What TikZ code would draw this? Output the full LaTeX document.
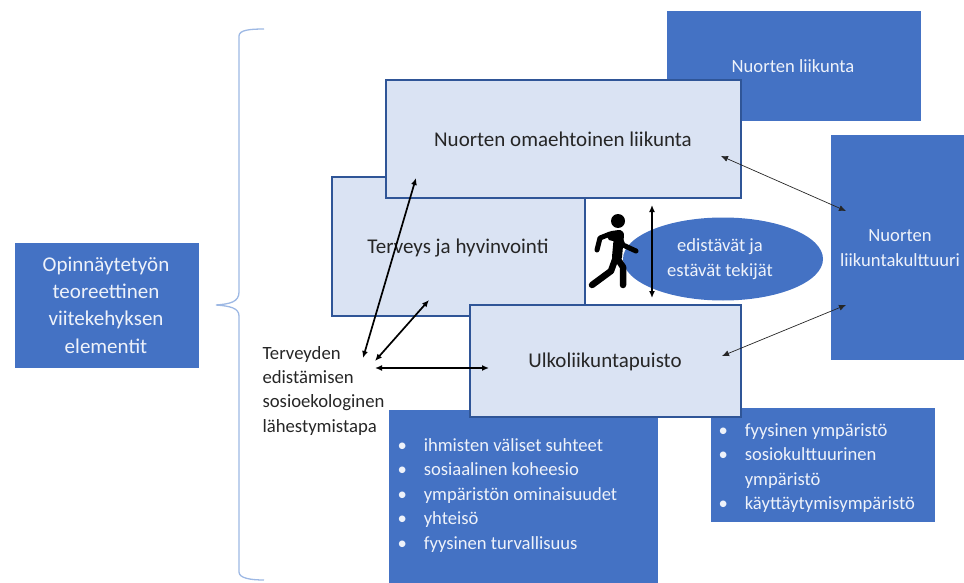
\documentclass[tikz,border=0pt]{standalone}
\usepackage{fontspec}
\setmainfont{Carlito}
\definecolor{bluefill}{HTML}{4472C4}
\definecolor{palefill}{HTML}{DAE3F3}
\definecolor{edgeblue}{HTML}{2F5597}
\definecolor{bracecol}{HTML}{9DB8E4}
\definecolor{softwhite}{HTML}{EEF2FA}
\definecolor{softblack}{HTML}{262626}
\usetikzlibrary{arrows.meta,shapes.geometric}
\tikzset{
  darkbox/.style={draw=bluefill,fill=bluefill,line width=0.8pt},
  palebox/.style={draw=edgeblue,fill=palefill,line width=1.4pt},
  whitetext/.style={text=softwhite,font=\fontsize{18.6}{25}\selectfont,align=center},
  listtext/.style={text=softwhite,font=\fontsize{18.6}{24.4}\selectfont,align=left,anchor=north west},
  blacktext/.style={text=softblack,font=\fontsize{21}{25}\selectfont,align=center},
  thinarrow/.style={{Latex[length=7pt,width=6pt]}-{Latex[length=7pt,width=6pt]},draw=softblack,line width=0.7pt},
  boldarrow/.style={{Latex[length=7pt,width=6pt]}-{Latex[length=7pt,width=6pt]},black,line width=1.7pt},
  limb/.style={black,line cap=round,line join=round},
}
\newcommand{\bul}{\textbullet\hspace{17pt}}
\begin{document}
\begin{tikzpicture}[x=1pt,y=-1pt]
\useasboundingbox (0,0) rectangle (964,583);
% back boxes
\draw[darkbox] (667,11) rectangle (920,120);
\node[whitetext] (nl) at (793,66) {Nuorten liikunta};
\draw[darkbox] (831,135) rectangle (964,359);
\node[whitetext] (nk) at (900,248) {Nuorten\\liikuntakulttuuri};
\draw[darkbox] (15,243) rectangle (198,367);
\node[whitetext,font=\fontsize{21}{27.4}\selectfont] (op) at (106,305) {Opinnäytetyön\\teoreettinen\\viitekehyksen\\elementit};
\draw[darkbox] (389,410) rectangle (657,583);
\draw[darkbox] (711,408) rectangle (934,521);
% pale boxes
\draw[palebox] (332,177) rectangle (585,316);
\node[blacktext] (ter) at (458,248) {Terveys ja hyvinvointi};
\draw[palebox] (386,80) rectangle (741,198);
\node[blacktext] (nol) at (563,139) {Nuorten omaehtoinen liikunta};
\draw[palebox] (470,305) rectangle (741,417);
\node[blacktext] (ulk) at (605,362) {Ulkoliikuntapuisto};
% lists
\node[listtext] (l1) at (394,435) {\bul ihmisten väliset suhteet\\\bul sosiaalinen koheesio\\\bul ympäristön ominaisuudet\\\bul yhteisö\\\bul fyysinen turvallisuus};
\node[listtext] (l2) at (715,420) {\bul fyysinen ympäristö\\\bul sosiokulttuurinen\\\hphantom{\bul}ympäristö\\\bul käyttäytymisympäristö};
% ellipse
\node[draw=none,fill=bluefill,ellipse,minimum width=200pt,minimum height=83pt,inner sep=0pt] (el) at (723,259) {};
\node[whitetext] (elt) at (720,259) {edistävät ja\\estävät tekijät};
% walker
\fill[black] (618,221) circle (7);
\draw[limb,line width=10pt] (612,236) -- (619,235) -- (617,257);
\draw[limb,line width=5pt] (610,234) -- (600,238) -- (597,250);
\draw[limb,line width=5pt] (618,234) -- (623,245) -- (636,251);
\draw[limb,line width=6.5pt] (616,257) -- (611,271) -- (592,285);
\draw[limb,line width=6.5pt] (617,258) -- (623,267) -- (623,285);
% text node
\node[text=softblack,font=\fontsize{18.7}{24.2}\selectfont,align=left,anchor=north west] (te) at (259,343) {Terveyden\\edistämisen\\sosioekologinen\\lähestymistapa};
% brace
\coordinate (b1) at (264,29);
\coordinate (b2) at (216,305);
\coordinate (b3) at (264,580);
\draw[bracecol,line width=1.3pt] (b1) .. controls (250,29) and (239,30) .. (239,36) -- (239,292) .. controls (239,302) and (230,304) .. (b2) .. controls (230,306) and (239,308) .. (239,316) -- (239,572) .. controls (239,578) and (250,580) .. (b3);
% arrows
\coordinate (a1) at (363,358); \coordinate (a2) at (416,178);
\coordinate (a3) at (375,361); \coordinate (a4) at (429,300);
\coordinate (a5) at (375,368); \coordinate (a6) at (489,368);
\coordinate (a7) at (652,205); \coordinate (a8) at (652,298);
\coordinate (a9) at (721,156); \coordinate (a10) at (846,211);
\coordinate (a11) at (722,356); \coordinate (a12) at (846,305);
\draw[boldarrow] (a1) -- (a2);
\draw[boldarrow] (a3) -- (a4);
\draw[boldarrow] (a5) -- (a6);
\draw[boldarrow] (a7) -- (a8);
\draw[thinarrow] (a9) -- (a10);
\draw[thinarrow] (a11) -- (a12);
\end{tikzpicture}
\end{document}
